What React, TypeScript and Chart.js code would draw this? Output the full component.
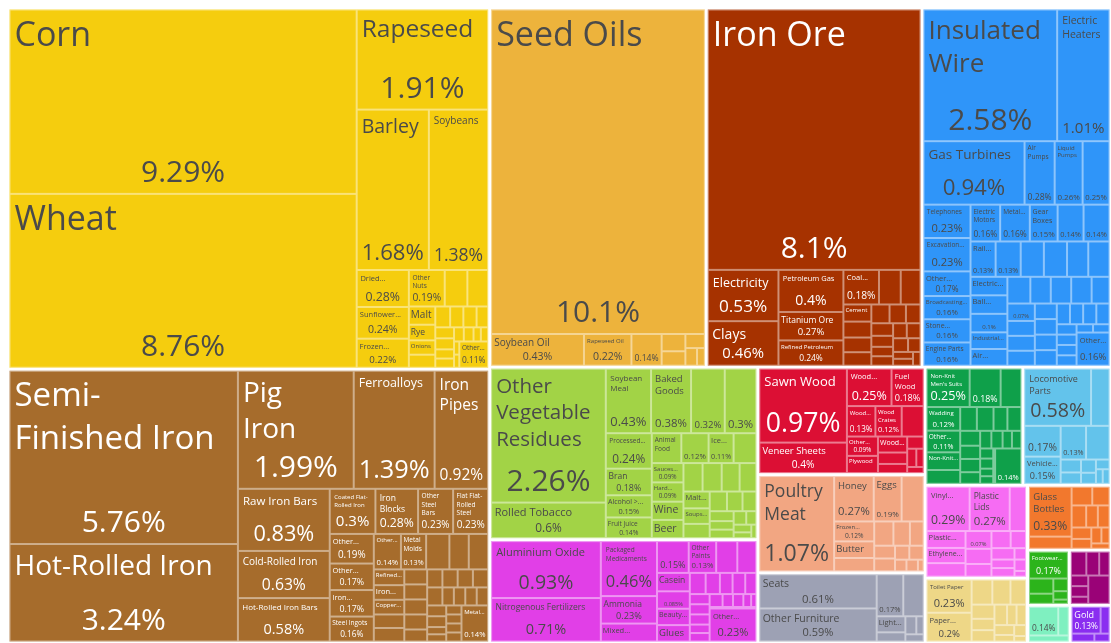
import React, { useEffect, useRef } from "react";
import { Chart, registerables } from "chart.js";

Chart.register(...registerables);

// ---------------- DATA: share of total exports (%) ----------------
const vegetableNames = ["Corn", "Wheat", "Rapeseed", "Barley", "Soybeans", "Dried Legumes", "Sunflower Seeds", "Frozen Fruits and Nuts", "Other Nuts", "Oats", "Buckwheat", "Malt", "Rye", "Onions", "Apples", "Sorghum", "Peas", "Wheat Flours", "Cereal Flours", "Berries", "Cherries", "Potatoes", "Millet", "Seeds for Sowing", "Hops", "Mushrooms", "Tea", "Spices", "Cabbages", "Other Vegetables"];
const vegetableShares = [9.29, 8.76, 1.91, 1.68, 1.38, 0.28, 0.24, 0.22, 0.19, 0.12, 0.11, 0.07, 0.06, 0.055, 0.05, 0.045, 0.04, 0.04, 0.035, 0.03, 0.03, 0.025, 0.025, 0.02, 0.02, 0.015, 0.015, 0.01, 0.01, 0.11];

const metalNames = ["Semi-Finished Iron", "Hot-Rolled Iron", "Pig Iron", "Ferroalloys", "Iron Pipes", "Raw Iron Bars", "Cold-Rolled Iron", "Hot-Rolled Iron Bars", "Coated Flat-Rolled Iron", "Iron Blocks", "Other Steel Bars", "Flat Flat-Rolled Steel", "Other Iron Products", "Other Iron Bars", "Iron Structures", "Steel Ingots", "Other Small Iron Pipes", "Metal Molds", "Iron Wire", "Iron Fasteners", "Scrap Iron", "Refined Copper", "Iron Railway Products", "Copper Wire", "Aluminium Plating", "Raw Aluminium", "Iron Springs", "Aluminium Bars", "Iron Cloth", "Iron Chain", "Raw Zinc", "Iron Nails", "Aluminium Foil", "Copper Bars", "Hand Tools", "Cutlery", "Iron Stovetops", "Padlocks", "Scrap Aluminium", "Scrap Copper", "Iron Sheet Piling", "Raw Lead", "Titanium", "Aluminium Structures", "Iron Anchors", "Saw Blades", "Metal Signs", "Other Aluminium Products", "Metal Stoppers"];
const metalShares = [5.76, 3.24, 1.99, 1.39, 0.92, 0.83, 0.63, 0.58, 0.3, 0.28, 0.23, 0.23, 0.19, 0.17, 0.17, 0.16, 0.14, 0.13, 0.12, 0.1, 0.1, 0.07, 0.065, 0.065, 0.06, 0.06, 0.05, 0.05, 0.05, 0.05, 0.04, 0.04, 0.04, 0.04, 0.04, 0.04, 0.03, 0.03, 0.03, 0.03, 0.03, 0.03, 0.02, 0.02, 0.02, 0.02, 0.02, 0.02, 0.14];

const byproductNames = ["Seed Oils", "Soybean Oil", "Rapeseed Oil", "Margarine", "Animal Fats", "Glycerol", "Vegetable Waxes", "Palm Oil", "Other Vegetable Fats"];
const byproductShares = [10.14, 0.43, 0.22, 0.14, 0.06, 0.05, 0.04, 0.03, 0.02];

const mineralNames = ["Iron Ore", "Electricity", "Clays", "Petroleum Gas", "Titanium Ore", "Refined Petroleum", "Coal Briquettes", "Manganese Ore", "Coke", "Cement", "Limestone", "Zirconium Ore", "Quartz", "Sulphur", "Salt", "Gypsum", "Sand", "Kaolin", "Graphite", "Crude Petroleum", "Gravel and Crushed Stone", "Bituminous Substances", "Other Ores", "Coal Tar Oil", "Petroleum Coke", "Feldspar", "Mica"];
const mineralShares = [8.1, 0.53, 0.46, 0.4, 0.27, 0.24, 0.18, 0.11, 0.1, 0.07, 0.065, 0.06, 0.055, 0.05, 0.045, 0.04, 0.04, 0.035, 0.03, 0.03, 0.03, 0.03, 0.03, 0.025, 0.02, 0.02, 0.015];

const machineNames = ["Insulated Wire", "Electric Heaters", "Gas Turbines", "Air Pumps", "Liquid Pumps", "Centrifuges", "Telephones", "Excavation Machinery", "Other Heating Machinery", "Broadcasting Equipment", "Stone Processing Machines", "Engine Parts", "Electric Motors", "Metal Rolling Mills", "Gear Boxes", "Low-voltage Protection Equipment", "Electrical Transformers", "Rail Signalling Equipment", "Office Machine Parts", "Valves", "Electrical Control Boards", "Refrigerators", "Harvesting Machinery", "Electric Batteries", "Ball Bearings", "Computers", "Industrial Printers", "Air Conditioners", "Lifting Machinery", "Washing Machines", "Machinery Having Individual Functions", "Electric Filament", "Vacuum Cleaners", "Spark-Ignition Engines", "Transmissions", "Electrical Capacitors", "Semiconductor Devices", "Microphones and Headphones", "Video Displays", "Electric Soldering Equipment", "Agricultural Machinery", "Packing Machinery", "Industrial Furnaces", "Sewing Machines", "Weaving Machines", "Printed Circuit Boards", "Electric Generating Sets", "Taps", "Textile Machinery", "Fuses", "Insulators", "Other Electrical Machinery"];
const machineShares = [2.58, 1.01, 0.94, 0.28, 0.26, 0.25, 0.23, 0.23, 0.17, 0.16, 0.16, 0.16, 0.16, 0.16, 0.15, 0.14, 0.14, 0.13, 0.13, 0.12, 0.12, 0.11, 0.11, 0.1, 0.1, 0.1, 0.09, 0.09, 0.09, 0.08, 0.08, 0.08, 0.07, 0.07, 0.06, 0.06, 0.06, 0.05, 0.05, 0.05, 0.05, 0.04, 0.04, 0.04, 0.04, 0.03, 0.03, 0.03, 0.03, 0.02, 0.02, 0.16];

const foodNames = ["Other Vegetable Residues", "Rolled Tobacco", "Soybean Meal", "Baked Goods", "Chocolate", "Processed Potatoes", "Processed Tobacco", "Bran", "Alcohol > 80% ABV", "Fruit Juice", "Animal Food", "Beverages", "Ice Cream", "Pasta", "Sauces and Seasonings", "Hard Liquor", "Wine", "Beer", "Coffee", "Flavored Water", "Vinegar", "Confectionery Sugar", "Malt Extract", "Soups and Broths", "Processed Cereals", "Yeast", "Tomato Sauce", "Sugar Syrups", "Processed Fruits", "Jams", "Molasses", "Processed Vegetables", "Starch Residue", "Cider", "Frozen Vegetables", "Coffee Substitutes"];
const foodShares = [2.26, 0.6, 0.43, 0.38, 0.32, 0.3, 0.24, 0.18, 0.15, 0.14, 0.13, 0.12, 0.11, 0.1, 0.09, 0.09, 0.085, 0.085, 0.08, 0.08, 0.075, 0.07, 0.065, 0.06, 0.055, 0.05, 0.045, 0.04, 0.035, 0.03, 0.03, 0.025, 0.02, 0.02, 0.015, 0.01];

const chemicalNames = ["Aluminium Oxide", "Nitrogenous Fertilizers", "Packaged Medicaments", "Ammonia", "Mixed Mineral or Chemical Fertilizers", "Insecticides", "Other Paints", "Soap", "Titanium Oxides", "Casein", "Hydrogen", "Beauty Products", "Glues", "Explosives", "Polishes", "Nitric Acids", "Animal Extracts", "Sulfuric Acid", "Carbon", "Cleaning Products", "Vaccines", "Perfumes", "Other Inorganic Acids", "Essential Oils", "Gelatin", "Printing Ink", "Activated Carbon", "Photographic Film", "Enzymes", "Other Organic Compounds"];
const chemicalShares = [0.93, 0.71, 0.46, 0.23, 0.15, 0.15, 0.13, 0.1, 0.09, 0.09, 0.085, 0.08, 0.08, 0.05, 0.045, 0.04, 0.04, 0.035, 0.03, 0.03, 0.03, 0.025, 0.025, 0.025, 0.02, 0.02, 0.015, 0.01, 0.01, 0.23];

const woodNames = ["Sawn Wood", "Veneer Sheets", "Wood Carpentry", "Fuel Wood", "Wood Fiberboard", "Wood Crates", "Particle Board", "Other Wood Articles", "Plywood", "Wood Frames", "Rough Wood", "Wood Charcoal", "Densified Wood", "Wood Wool", "Wood Tableware", "Cork"];
const woodShares = [0.97, 0.4, 0.25, 0.18, 0.13, 0.12, 0.1, 0.09, 0.08, 0.07, 0.05, 0.04, 0.03, 0.025, 0.02, 0.015];

const animalNames = ["Poultry Meat", "Honey", "Eggs", "Concentrated Milk", "Frozen Bovine Meat", "Butter", "Cheese", "Pig Meat", "Fish Fillets", "Animal Organs", "Whey", "Milk", "Processed Fish", "Bovine Meat", "Crustaceans", "Animal Hair", "Bird Feathers"];
const animalShares = [1.07, 0.27, 0.19, 0.15, 0.12, 0.1, 0.08, 0.07, 0.06, 0.05, 0.04, 0.04, 0.03, 0.03, 0.02, 0.02, 0.01];

const miscNames = ["Seats", "Other Furniture", "Sports Equipment", "Mattresses", "Light Fixtures", "Brooms", "Toys", "Pens", "Buttons"];
const miscShares = [0.61, 0.59, 0.17, 0.13, 0.07, 0.04, 0.03, 0.02, 0.02];

const textileNames = ["Non-Knit Men's Suits", "Non-Knit Women's Suits", "Knit Sweaters", "Wadding", "Other Women's Undergarments", "Non-Knit Men's Coats", "Knit T-shirts", "Synthetic Fabrics", "Raw Cotton", "Non-Knit Women's Coats", "Knit Socks", "Twine and Rope", "Other Cotton Fabrics", "Used Clothing", "Felt", "House Linens", "Synthetic Filament Yarn", "Other Knit Garments", "Babies' Garments", "Tulles and Net Fabric", "Rubber Textiles", "Labels", "Woven Fabrics", "Non-woven Textiles", "Textile Wall Coverings"];
const textileShares = [0.25, 0.18, 0.12, 0.12, 0.11, 0.09, 0.07, 0.06, 0.06, 0.05, 0.05, 0.045, 0.04, 0.04, 0.035, 0.03, 0.03, 0.025, 0.025, 0.02, 0.02, 0.015, 0.015, 0.01, 0.14];

const transportNames = ["Locomotive Parts", "Railway Freight Cars", "Passenger and Cargo Ships", "Vehicle Parts", "Aircraft Parts", "Tractors", "Trailers", "Cars", "Railway Cargo Containers", "Bicycles", "Motorcycles", "Aircraft", "Buses"];
const transportShares = [0.58, 0.16, 0.17, 0.15, 0.13, 0.12, 0.04, 0.035, 0.03, 0.025, 0.02, 0.015, 0.015];

const plasticNames = ["Vinyl Chloride Polymers", "Plastic Lids", "Raw Plastic Sheeting", "Plastic Pipes", "Ethylene Polymers", "Other Plastic Sheetings", "Rubber Tires", "Plastic Housewares", "Propylene Polymers", "Styrene Polymers", "Rubber Pipes", "Polyacetals", "Rubber Belts", "Plastic Floor Coverings", "Synthetic Rubber", "Rubber Apparel", "Other Rubber Products"];
const plasticShares = [0.29, 0.27, 0.11, 0.1, 0.09, 0.08, 0.07, 0.06, 0.05, 0.05, 0.04, 0.04, 0.03, 0.03, 0.02, 0.02, 0.01];

const paperNames = ["Toilet Paper", "Paper Containers", "Kraft Paper", "Other Uncoated Paper", "Cartons", "Newspapers", "Wallpaper", "Paper Labels", "Paper Pulp", "Coated Paper", "Paper Notebooks", "Cigarette Paper", "Recovered Paper", "Paperboard", "Other Printed Material"];
const paperShares = [0.23, 0.2, 0.08, 0.07, 0.06, 0.05, 0.04, 0.04, 0.04, 0.03, 0.03, 0.03, 0.02, 0.02, 0.01];

const stoneNames = ["Glass Bottles", "Unglazed Ceramics", "Glass Fibers", "Float Glass", "Ceramic Bricks", "Safety Glass", "Refractory Bricks", "Asphalt", "Glassware", "Mineral Wool", "Cement Articles", "Glass Mirrors"];
const stoneShares = [0.33, 0.08, 0.06, 0.05, 0.05, 0.04, 0.04, 0.035, 0.03, 0.025, 0.02, 0.015];

const footwearNames = ["Footwear Parts", "Leather Footwear", "Rubber Footwear", "Textile Footwear", "Hats", "Umbrellas"];
const footwearShares = [0.17, 0.06, 0.04, 0.03, 0.02, 0.01];

const instrumentNames = ["Electrical Measuring Instruments", "Optical Fibers", "Thermostats", "Liquid Flow Meters", "Spectacles", "Clocks", "Medical Instruments"];
const instrumentShares = [0.06, 0.05, 0.04, 0.03, 0.03, 0.02, 0.098];

const hideNames = ["Tanned Equine and Bovine Hides", "Raw Hides", "Leather Apparel"];
const hideShares = [0.14, 0.05, 0.04];

const preciousNames = ["Gold", "Jewellery", "Silver", "Platinum"];
const preciousShares = [0.13, 0.04, 0.03, 0.02];

const sectorNames = ["Vegetable Products", "Metals", "Animal and Vegetable Bi-Products", "Mineral Products", "Machines", "Foodstuffs", "Chemical Products", "Wood Products", "Animal Products", "Miscellaneous", "Textiles", "Transportation", "Plastics and Rubbers", "Paper Goods", "Stone and Glass", "Footwear and Headwear", "Instruments", "Animal Hides", "Precious Metals"];
const sectorProductNames = [vegetableNames, metalNames, byproductNames, mineralNames, machineNames, foodNames, chemicalNames, woodNames, animalNames, miscNames, textileNames, transportNames, plasticNames, paperNames, stoneNames, footwearNames, instrumentNames, hideNames, preciousNames];
const sectorProductShares = [vegetableShares, metalShares, byproductShares, mineralShares, machineShares, foodShares, chemicalShares, woodShares, animalShares, miscShares, textileShares, transportShares, plasticShares, paperShares, stoneShares, footwearShares, instrumentShares, hideShares, preciousShares];

// ---------------- STYLE ----------------
const sectorColors = ["#F5CD0E", "#A66C2C", "#EDB33C", "#A63200", "#2F95F9", "#A2D346", "#E13FE7", "#DC0F34", "#F2A682", "#9DA1B4", "#0FA04A", "#63C3EB", "#F66CF3", "#EED787", "#F2782D", "#2CB41B", "#9A0277", "#7FF0C0", "#8A2DF0"];
const DARK = "#4a4a4a";
const LIGHT = "#ffffff";
const sectorTextColors = [DARK, LIGHT, DARK, LIGHT, DARK, DARK, DARK, LIGHT, DARK, DARK, LIGHT, DARK, DARK, DARK, DARK, LIGHT, LIGHT, DARK, LIGHT];

const FONT = '"Open Sans", "Noto Sans", sans-serif';
const PHI = (1 + Math.sqrt(5)) / 2;
const LAYOUT_STRETCH = 1.15; // layout is tiled on a slightly taller virtual area
const SECTOR_GAP = 3;
const LINE = 1.3;
const NAME_WIDTH = 0.92;

type Rect = { x0: number; y0: number; x1: number; y1: number };

function squarify(values: number[], r: Rect): Rect[] {
  const out: Rect[] = new Array(values.length);
  let { x0, y0, x1, y1 } = r;
  let value = values.reduce((a, b) => a + b, 0);
  const n = values.length;
  let i0 = 0, i1 = 0;
  while (i0 < n) {
    const dx = x1 - x0, dy = y1 - y0;
    let sumValue = 0;
    do { sumValue = values[i1++]; } while (!sumValue && i1 < n);
    let minValue = sumValue, maxValue = sumValue;
    const alpha = Math.max(dy / dx, dx / dy) / (value * PHI);
    let beta = sumValue * sumValue * alpha;
    let minRatio = Math.max(maxValue / beta, beta / minValue);
    for (; i1 < n; ++i1) {
      const nv = values[i1];
      sumValue += nv;
      if (nv < minValue) minValue = nv;
      if (nv > maxValue) maxValue = nv;
      beta = sumValue * sumValue * alpha;
      const newRatio = Math.max(maxValue / beta, beta / minValue);
      if (newRatio > minRatio) { sumValue -= nv; break; }
      minRatio = newRatio;
    }
    if (dx < dy) {
      const yb = y0 + (dy * sumValue) / value;
      const k = (x1 - x0) / sumValue;
      let x = x0;
      for (let i = i0; i < i1; i++) { const w = values[i] * k; out[i] = { x0: x, y0, x1: x + w, y1: yb }; x += w; }
      y0 = yb;
    } else {
      const xb = x0 + (dx * sumValue) / value;
      const k = (y1 - y0) / sumValue;
      let y = y0;
      for (let i = i0; i < i1; i++) { const h = values[i] * k; out[i] = { x0, y0: y, x1: xb, y1: y + h }; y += h; }
      x0 = xb;
    }
    value -= sumValue;
    i0 = i1;
  }
  return out;
}

function fmtShare(v: number) {
  return String(parseFloat(v.toPrecision(3))) + "%";
}

function wrapText(ctx: CanvasRenderingContext2D, text: string, maxW: number): string[] | null {
  const tokens: { t: string; sp: boolean }[] = [];
  text.split(" ").forEach((word, wi) => {
    const parts = word.split(/(?<=-)/);
    parts.forEach((p, pi) => tokens.push({ t: p, sp: wi > 0 && pi === 0 }));
  });
  const lines: string[] = [];
  let cur = "";
  for (const tk of tokens) {
    if (ctx.measureText(tk.t).width > maxW) return null;
    const cand = cur === "" ? tk.t : cur + (tk.sp ? " " : "") + tk.t;
    if (ctx.measureText(cand).width <= maxW) cur = cand;
    else { lines.push(cur); cur = tk.t; }
  }
  if (cur) lines.push(cur);
  return lines;
}

function truncateText(ctx: CanvasRenderingContext2D, text: string, maxW: number): string | null {
  const words = text.split(" ");
  for (let n = words.length - 1; n >= 1; n--) {
    const t = words.slice(0, n).join(" ") + "...";
    if (ctx.measureText(t).width <= maxW) return t;
  }
  return null;
}

function drawLabel(ctx: CanvasRenderingContext2D, r: Rect, name: string, share: number, color: string) {
  const w = r.x1 - r.x0, h = r.y1 - r.y0;
  if (w < 24 || h < 14) return;
  const pad = Math.max(2, Math.min(5, Math.min(w, h) * 0.1));
  const iw = w - 2 * pad, ih = h - 2 * pad;
  const nw = iw * NAME_WIDTH;
  const shareText = fmtShare(share);
  ctx.font = `100px ${FONT}`;
  const shareEm = ctx.measureText(shareText).width / 100;
  const fs = Math.min(30, iw / shareEm, ih / 2.4);
  const canShare = fs >= 5;

  const tryFit = (reserve: number) => {
    for (let f = 34; f >= 6; f -= 0.5) {
      if (f * LINE + reserve > ih) continue;
      ctx.font = `${f}px ${FONT}`;
      const ls = wrapText(ctx, name, nw);
      if (ls && ls.length * f * LINE + reserve <= ih) return { f, ls };
    }
    for (let f = 7.5; f >= 6; f -= 0.5) {
      if (f * LINE + reserve > ih) continue;
      ctx.font = `${f}px ${FONT}`;
      const t = truncateText(ctx, name, iw);
      if (t) return { f, ls: [t] };
    }
    return null;
  };

  let withShare = canShare;
  let fit = canShare ? tryFit(fs * 1.15) : null;
  if (!fit) {
    fit = tryFit(0);
    withShare = fit ? false : canShare;
  }
  ctx.fillStyle = color;
  ctx.textBaseline = "alphabetic";
  if (fit) {
    ctx.font = `${fit.f}px ${FONT}`;
    ctx.textAlign = "left";
    fit.ls.forEach((line, i) => {
      ctx.fillText(line, r.x0 + pad, r.y0 + pad + fit!.f * 0.93 + i * fit!.f * LINE);
    });
  }
  if (withShare) {
    ctx.font = `${fs}px ${FONT}`;
    ctx.textAlign = "center";
    ctx.fillText(shareText, (r.x0 + r.x1) / 2, r.y1 - pad - fs * 0.22);
  }
}

const treemapPlugin = {
  id: "oecTreemap",
  afterDraw(chart: any) {
    const ctx: CanvasRenderingContext2D = chart.ctx;
    const xs = chart.scales.x, ys = chart.scales.y;
    const W = xs.getPixelForValue(100) - xs.getPixelForValue(0);
    const H = ys.getPixelForValue(100) - ys.getPixelForValue(0);
    const totals = sectorProductShares.map((s) => s.reduce((a, b) => a + b, 0));
    const order = totals.map((_, i) => i).sort((a, b) => totals[b] - totals[a]);
    const K = LAYOUT_STRETCH;
    const sectorRects = squarify(order.map((i) => totals[i]), { x0: 0, y0: 0, x1: W, y1: H * K });
    ctx.save();
    order.forEach((si, j) => {
      const sr = sectorRects[j];
      const left = xs.getPixelForValue((sr.x0 / W) * 100) + SECTOR_GAP / 2;
      const right = xs.getPixelForValue((sr.x1 / W) * 100) - SECTOR_GAP / 2;
      const top = ys.getPixelForValue((sr.y0 / K / H) * 100) + SECTOR_GAP / 2;
      const bottom = ys.getPixelForValue((sr.y1 / K / H) * 100) - SECTOR_GAP / 2;
      const shares = sectorProductShares[si];
      const names = sectorProductNames[si];
      const leaves = squarify(shares, { x0: left, y0: top * K, x1: right, y1: bottom * K }).map((q) => ({
        x0: q.x0, x1: q.x1, y0: q.y0 / K, y1: q.y1 / K,
      }));
      leaves.forEach((q) => {
        ctx.fillStyle = sectorColors[si];
        ctx.fillRect(q.x0, q.y0, q.x1 - q.x0, q.y1 - q.y0);
        ctx.strokeStyle = "rgba(255,255,255,0.45)";
        ctx.lineWidth = 1;
        ctx.strokeRect(q.x0 + 0.5, q.y0 + 0.5, q.x1 - q.x0 - 1, q.y1 - q.y0 - 1);
      });
      leaves.forEach((q, li) => drawLabel(ctx, q, names[li], shares[li], sectorTextColors[si]));
    });
    ctx.restore();
  },
};

export default function App() {
  const ref = useRef<HTMLCanvasElement>(null);
  useEffect(() => {
    if (!ref.current) return;
    const chart = new Chart(ref.current, {
      type: "scatter",
      data: { datasets: [{ label: "Exports", data: [] }] },
      options: {
        animation: false,
        responsive: true,
        maintainAspectRatio: false,
        layout: { padding: 0 },
        plugins: { legend: { display: false }, tooltip: { enabled: false }, title: { display: false } },
        scales: {
          x: { type: "linear", min: 0, max: 100, display: false },
          y: { type: "linear", min: 0, max: 100, reverse: true, display: false },
        },
      },
      plugins: [treemapPlugin],
    });
    return () => chart.destroy();
  }, []);
  return (
    <div style={{ position: "absolute", left: 8, top: 8, width: 1103, height: 635 }}>
      <canvas ref={ref} />
    </div>
  );
}
